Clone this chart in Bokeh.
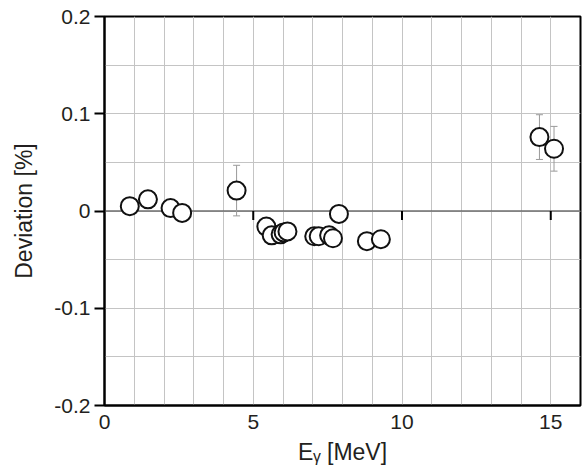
from bokeh.plotting import figure
from bokeh.models import (FixedTicker, SingleIntervalTicker, Span,
                          Whisker, ColumnDataSource, Range1d)
from bokeh.embed import file_html
from bokeh.resources import INLINE

# Data
energy = [0.85, 1.46, 2.22, 2.61, 4.44, 5.44, 5.62, 5.92, 6.02, 6.15,
          7.05, 7.20, 7.55, 7.68, 7.88, 8.82, 9.29, 14.62, 15.11]
deviation = [0.005, 0.012, 0.003, -0.002, 0.021, -0.016, -0.025, -0.024, -0.022, -0.021,
             -0.026, -0.026, -0.025, -0.028, -0.003, -0.031, -0.029, 0.076, 0.064]
error = [0.004, 0.004, 0.004, 0.004, 0.026, 0.004, 0.004, 0.004, 0.004, 0.004,
         0.004, 0.004, 0.004, 0.004, 0.004, 0.004, 0.004, 0.023, 0.023]

x_ticks = [0, 5, 10, 15]
zero_line_ticks = [5, 10, 15]
y_ticks = [-0.2, -0.1, 0, 0.1, 0.2]
y_tick_labels = ["-0.2", "-0.1", "0", "0.1", "0.2"]

X_MIN, X_MAX = 0, 16
Y_MIN, Y_MAX = -0.2, 0.2
FRAME_W, FRAME_H = 476, 389

src = ColumnDataSource(dict(
    x=energy, y=deviation,
    lo=[d - e for d, e in zip(deviation, error)],
    hi=[d + e for d, e in zip(deviation, error)],
))

FONT = "Liberation Sans"
TXT = "#231f20"

p = figure(width=584, height=469, frame_width=FRAME_W, frame_height=FRAME_H,
           min_border_left=104, min_border_right=4, min_border_top=16, min_border_bottom=64,
           x_range=Range1d(X_MIN, X_MAX), y_range=Range1d(Y_MIN, Y_MAX),
           output_backend="svg", toolbar_location=None,
           background_fill_color="white", border_fill_color="white")

p.outline_line_color = "black"
p.outline_line_width = 2

# grids
p.xgrid.ticker = SingleIntervalTicker(interval=1)
p.ygrid.ticker = SingleIntervalTicker(interval=0.05)
for g in (p.xgrid, p.ygrid):
    g.grid_line_color = "#c4c4c4"
    g.grid_line_width = 1

# bottom axis
xa = p.xaxis[0]
xa.ticker = FixedTicker(ticks=x_ticks)
xa.major_tick_out = 0
xa.major_tick_in = 0
xa.minor_tick_out = 0
xa.minor_tick_in = 0
xa.axis_line_width = 2
xa.axis_line_color = "black"
xa.major_label_text_font = FONT
xa.major_label_text_font_size = "21px"
xa.major_label_text_color = TXT
xa.major_label_standoff = 9
xa.axis_label = "E\u1d67 [MeV]"
xa.axis_label_text_font = FONT
xa.axis_label_text_font_size = "23px"
xa.axis_label_text_font_style = "normal"
xa.axis_label_text_color = TXT
xa.axis_label_standoff = 7

# left axis
ya = p.yaxis[0]
ya.ticker = FixedTicker(ticks=y_ticks)
ya.major_label_overrides = {t: l for t, l in zip(y_ticks, y_tick_labels)}
ya.major_tick_out = 10
ya.major_tick_in = 0
ya.minor_tick_out = 0
ya.minor_tick_in = 0
ya.major_tick_line_width = 2
ya.axis_line_width = 2
ya.axis_line_color = "black"
ya.major_label_text_font = FONT
ya.major_label_text_font_size = "21px"
ya.major_label_text_color = TXT
ya.major_label_standoff = 4
ya.axis_label = "Deviation [%]"
ya.axis_label_text_font = FONT
ya.axis_label_text_font_size = "23px"
ya.axis_label_text_font_style = "normal"
ya.axis_label_text_color = TXT
ya.axis_label_standoff = 14

# zero line
p.add_layout(Span(location=0, dimension="width", line_color="#6e6e6e",
                  line_width=1.5, level="underlay"))

# short downward ticks on the zero line (9 px long)
tick_len = 9 * (Y_MAX - Y_MIN) / FRAME_H
p.segment(x0=zero_line_ticks, x1=zero_line_ticks,
          y0=[0] * len(zero_line_ticks), y1=[-tick_len] * len(zero_line_ticks),
          line_color="black", line_width=2)

# error bars
wk = Whisker(source=src, base="x", lower="lo", upper="hi", dimension="height",
             line_color="#9a9a9a", line_width=1, level="underlay")
wk.upper_head.size = 7
wk.lower_head.size = 7
wk.upper_head.line_color = "#9a9a9a"
wk.lower_head.line_color = "#9a9a9a"
p.add_layout(wk)

p.scatter("x", "y", source=src, size=18, fill_color="white",
          line_color="#111111", line_width=2)

open("out.html", "w").write(file_html(p, INLINE))
